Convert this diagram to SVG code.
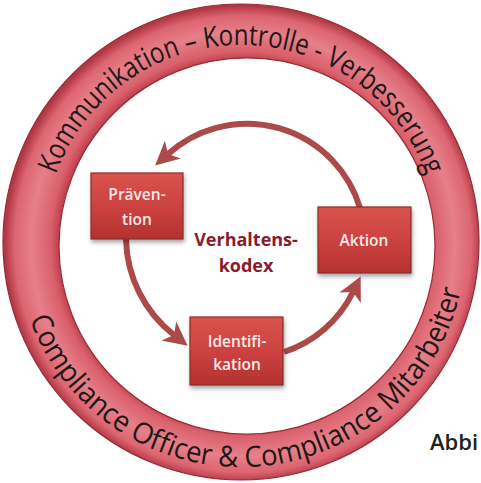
<svg xmlns="http://www.w3.org/2000/svg" width="481" height="483" viewBox="0 0 481 483">
<style>
.ring-text{font-family:"Open Sans","Liberation Sans",sans-serif;font-size:29px;fill:#221616;}
.node-box{fill:url(#boxGrad);stroke:#8e2a28;stroke-width:1.2;filter:url(#shadow);}
.node-text{font-family:"Open Sans","Liberation Sans",sans-serif;font-size:15.5px;font-weight:600;fill:#fbeaea;text-anchor:middle;}
.center-text{font-family:"Open Sans","Liberation Sans",sans-serif;font-size:18px;font-weight:700;fill:#8a1a2e;text-anchor:middle;}
.arrow{fill:none;stroke:#ac4a4a;stroke-width:6;marker-end:url(#head);}
</style>
<defs>
<radialGradient id="ringGrad" gradientUnits="userSpaceOnUse" cx="243" cy="244" r="238">
<stop offset="0.77" stop-color="#bd3d4a"/>
<stop offset="0.81" stop-color="#d9606c"/>
<stop offset="0.89" stop-color="#e6808a"/>
<stop offset="0.96" stop-color="#dc6571"/>
<stop offset="1" stop-color="#b23845"/>
</radialGradient>
<linearGradient id="boxGrad" x1="0" y1="0" x2="0" y2="1">
<stop offset="0" stop-color="#d9544d"/>
<stop offset="0.5" stop-color="#cc4240"/>
<stop offset="1" stop-color="#b33230"/>
</linearGradient>
<filter id="shadow" x="-20%" y="-20%" width="140%" height="150%">
<feDropShadow dx="1" dy="3" stdDeviation="2" flood-color="#000" flood-opacity="0.35"/>
</filter>
<marker id="head" markerUnits="userSpaceOnUse" markerWidth="26" markerHeight="26" viewBox="0 0 24 24" refX="6" refY="12" orient="auto">
<path d="M0,1 L22,12 L0,23 L6,12 z" fill="#ac4a4a"/>
</marker>
<path id="topArc" d="M 55.9 174.6 A 197 197 0 0 1 427.3 177.9"/>
<path id="bottomArc" d="M 29.6 319 A 225 225 0 0 0 461.1 288.8"/>
</defs>

<g id="ring">
<path d="M 3 242 A 238 238 0 1 0 479 242 A 238 238 0 1 0 3 242 Z M 59 246 A 188 188 0 1 1 435 246 A 188 188 0 1 1 59 246 Z" fill="url(#ringGrad)" fill-rule="evenodd" stroke="#9a2a35" stroke-width="1.2"/>
<text class="ring-text"><textPath href="#topArc" textLength="482" lengthAdjust="spacingAndGlyphs">Kommunikation – Kontrolle - Verbesserung</textPath></text>
<text class="ring-text"><textPath href="#bottomArc" textLength="580" lengthAdjust="spacingAndGlyphs">Compliance Officer &amp; Compliance Mitarbeiter</textPath></text>
</g>

<g id="connectors">
<path class="arrow" d="M 360 208 A 118 118 0 0 0 168 154"/>
<path class="arrow" d="M 126 239 A 125 125 0 0 0 174 335"/>
<path class="arrow" d="M 284 352 A 118 118 0 0 0 353 292"/>
</g>

<g id="node-praevention">
<rect class="node-box" x="91" y="173" width="92" height="66"/>
<text class="node-text" x="137" y="200">Präven-</text>
<text class="node-text" x="137" y="225">tion</text>
</g>

<g id="node-aktion">
<rect class="node-box" x="318" y="207" width="93" height="66"/>
<text class="node-text" x="364" y="246">Aktion</text>
</g>

<g id="node-identifikation">
<rect class="node-box" x="190" y="317" width="93" height="68"/>
<text class="node-text" x="237" y="347">Identifi-</text>
<text class="node-text" x="237" y="370">kation</text>
</g>

<g id="center-label">
<text class="center-text" x="246" y="246">Verhaltens-</text>
<text class="center-text" x="246" y="272">kodex</text>
</g>

<text x="430" y="450" font-family="'Open Sans','Liberation Sans',sans-serif" font-size="22" font-weight="600" fill="#222">Abbi</text>
</svg>
